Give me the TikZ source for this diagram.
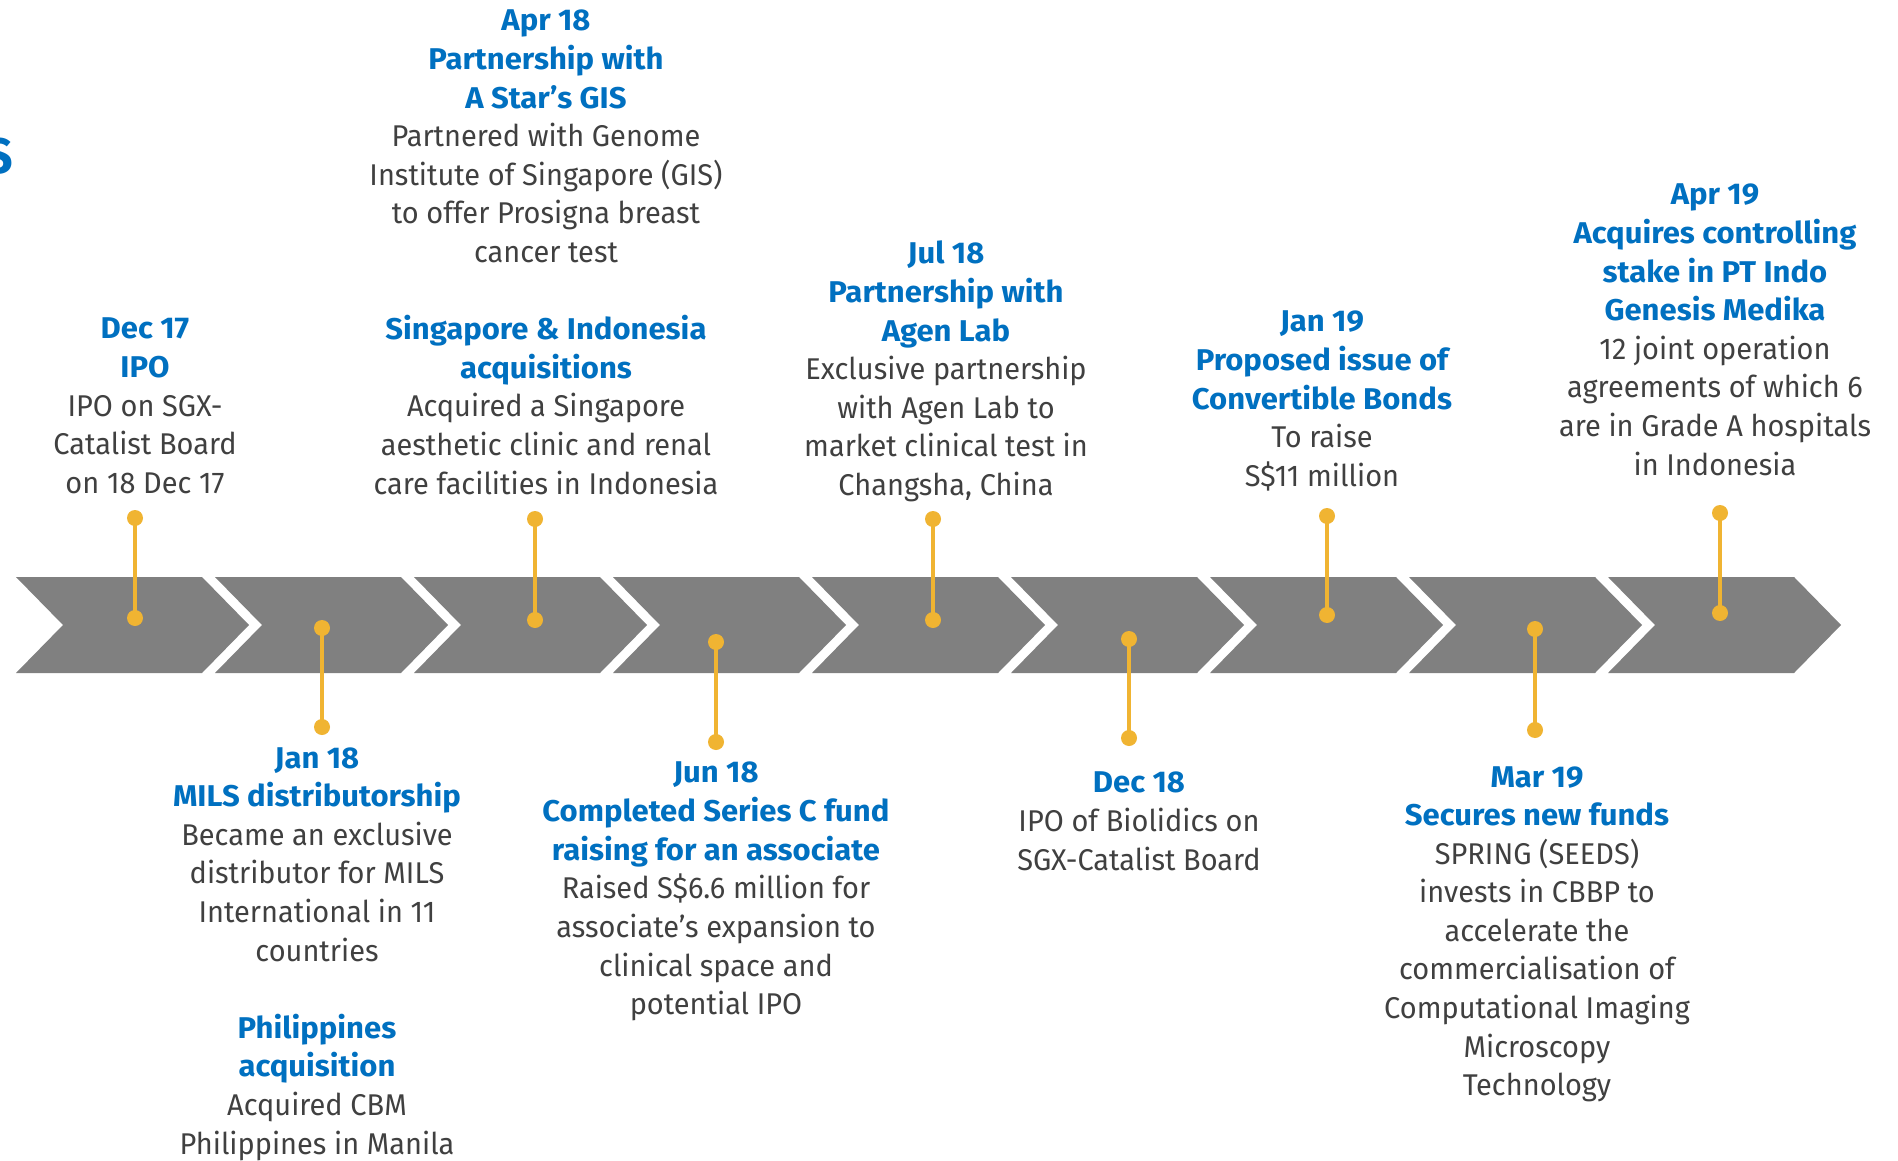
\documentclass[tikz,border=0pt]{standalone}
\usepackage{fontspec}
\setmainfont{Fira Sans}[FakeStretch=0.965]
\newfontfamily\hdfont{Fira Sans}[FakeStretch=1.035]
\definecolor{chevgray}{RGB}{128,128,128}
\definecolor{pinyellow}{RGB}{240,180,50}
\definecolor{headblue}{RGB}{0,112,192}
\definecolor{bodygray}{RGB}{64,64,64}
\newcommand\hd[1]{{\color{headblue}\hdfont\bfseries #1}}
\tikzset{
  chev/.style={fill=chevgray, draw=none},
  dot/.style={circle, fill=pinyellow, draw=none, inner sep=0pt, minimum size=16pt},
  pinline/.style={draw=pinyellow, line width=4pt},
  block/.style={align=center, inner sep=0pt, text=bodygray, font=\fontsize{30}{38.6}\selectfont, anchor=north, execute at begin node={\rule{0pt}{25pt}}},
}
\begin{document}
\begin{tikzpicture}[x=1pt,y=-1pt]
\useasboundingbox[fill=white] (0,0) rectangle (1898,1161);
% title fragment
\node[anchor=east, inner sep=0pt, text=headblue, font=\fontsize{50}{50}\bfseries\selectfont] (title) at (13,156) {S};
% chevrons
\foreach \i in {0,...,8}{
  \pgfmathsetmacro{\xa}{16+199*\i}
  \fill[chev] (\xa,577) -- ++(186,0) -- ++(47,48) -- ++(-47,48) -- ++(-186,0) -- ++(47,-48) -- cycle;
}
% pins
\foreach \n/\x/\ya/\yb in {p1/135/518/618, p2/322/628/727, p3/535/519/620, p4/716/642/742, p5/933/519/620, p6/1129/639/738, p7/1327/516/615, p8/1535/629/730, p9/1720/513/613}{
  \node[dot] (\n a) at (\x,\ya) {};
  \node[dot] (\n b) at (\x,\yb) {};
  \draw[pinline] (\n a.center) -- (\n b.center);
}
% top texts
\node[block] (t1) at (145,318) {\hd{Dec 17}\\ \hd{IPO}\\ IPO on SGX-\\ Catalist Board\\ on 18 Dec 17};
\node[block] (t3) at (546,10) {\hd{Apr 18}\\ \hd{Partnership with}\\ \hd{A Star’s GIS}\\ Partnered with Genome\\ Institute of Singapore (GIS)\\ to offer Prosigna breast\\ cancer test\\ \mbox{}\\ \hd{Singapore \& Indonesia}\\ \hd{acquisitions}\\ Acquired a Singapore\\ aesthetic clinic and renal\\ care facilities in Indonesia};
\node[block] (t5) at (946,241) {\hd{Jul 18}\\ \hd{Partnership with}\\ \hd{Agen Lab}\\ Exclusive partnership\\ with Agen Lab to\\ market clinical test in\\ Changsha, China};
\node[block] (t7) at (1322,311) {\hd{Jan 19}\\ \hd{Proposed issue of}\\ \hd{Convertible Bonds}\\ To raise\\ S\$11 million};
\node[block] (t9) at (1715,184) {\hd{Apr 19}\\ \hd{Acquires controlling}\\ \hd{stake in PT Indo}\\ \hd{Genesis Medika}\\ 12 joint operation\\ agreements of which 6\\ are in Grade A hospitals\\ in Indonesia};
% bottom texts
\node[block] (t2) at (317,747) {\hd{Jan 18}\\ \hd{MILS distributorship}\\ Became an exclusive\\ distributor for MILS\\ International in 11\\ countries\\ \mbox{}\\ \hd{Philippines}\\ \hd{acquisition}\\ Acquired CBM\\ Philippines in Manila};
\node[block] (t4) at (716,762) {\hd{Jun 18}\\ \hd{Completed Series C fund}\\ \hd{raising for an associate}\\ Raised S\$6.6 million for\\ associate’s expansion to\\ clinical space and\\ potential IPO};
\node[block] (t6) at (1139,772) {\hd{Dec 18}\\ IPO of Biolidics on\\ SGX-Catalist Board};
\node[block] (t8) at (1537,766) {\hd{Mar 19}\\ \hd{Secures new funds}\\ SPRING (SEEDS)\\ invests in CBBP to\\ accelerate the\\ commercialisation of\\ Computational Imaging\\ Microscopy\\ Technology};
\end{tikzpicture}
\end{document}
